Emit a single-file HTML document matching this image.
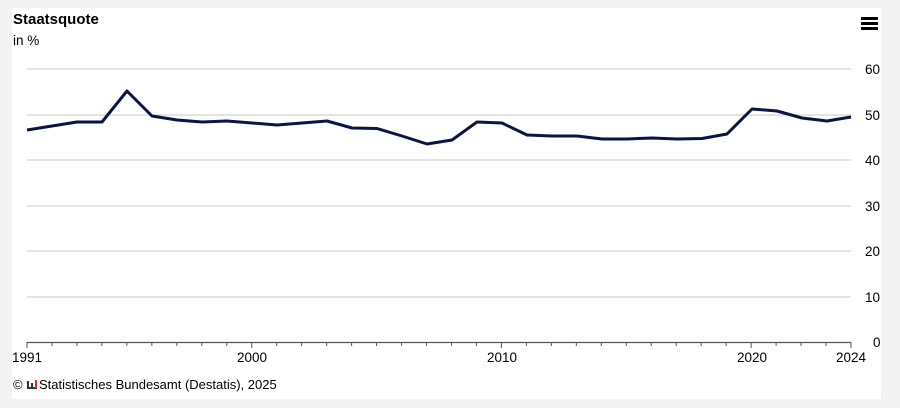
<!DOCTYPE html>
<html><head><meta charset="utf-8"><style>
body{margin:0;width:900px;height:408px;background:#f3f3f3;font-family:"Liberation Sans",sans-serif;overflow:hidden}
</style></head><body>
<svg width="900" height="408" style="position:absolute;left:0;top:0" font-family="Liberation Sans, sans-serif">
<rect x="12" y="8" width="869" height="391" fill="#fff"/>
<text x="13" y="24" font-size="15" font-weight="bold" fill="#000">Staatsquote</text>
<text x="13" y="45" font-size="13.5" fill="#000">in %</text>
<g fill="#000"><rect x="861" y="17" width="17" height="3"/><rect x="861" y="22" width="17" height="3"/><rect x="861" y="27" width="17" height="3"/></g>
<g stroke="#c8c8c8" stroke-width="1">
<line x1="27" x2="851" y1="69" y2="69"/><line x1="27" x2="851" y1="115" y2="115"/><line x1="27" x2="851" y1="160" y2="160"/><line x1="27" x2="851" y1="206" y2="206"/><line x1="27" x2="851" y1="251" y2="251"/><line x1="27" x2="851" y1="297" y2="297"/>
</g>
<g font-size="13.5" fill="#000" text-anchor="start">
<text x="865" y="74">60</text><text x="865" y="120">50</text><text x="865" y="165">40</text><text x="865" y="211">30</text><text x="865" y="256">20</text><text x="865" y="302">10</text><text x="873" y="347">0</text>
</g>
<line x1="27" x2="851" y1="342.5" y2="342.5" stroke="#555" stroke-width="1.2"/>
<g id="t" stroke="#555" stroke-width="1"></g>
<polyline fill="none" stroke="#0a1446" stroke-width="3" stroke-linejoin="round" points="
27,130 52,126 77,122 102,122 127,91 152,116 177,120 202,122 227,121 252,123 277,125 302,123 327,121 352,128 377,128.5 402,136 427,144 452,140 477,122 502,123 527,135 552,136 577,136 602,139 627,139 652,138 677,139 702,138.5 727,134 752,109 777,111 802,118 827,121 851,117"/>
<g font-size="13.5" fill="#000" text-anchor="middle">
<text x="27" y="362">1991</text><text x="252" y="362">2000</text><text x="502" y="362">2010</text><text x="752" y="362">2020</text><text x="851" y="362">2024</text>
</g>
<text x="13" y="389" font-size="13" fill="#000">©</text>
<g><rect x="27" y="381" width="2" height="8" fill="#333"/><rect x="27" y="387" width="10" height="2" fill="#333"/><rect x="31" y="383" width="2" height="5" fill="#333"/><rect x="35" y="380" width="2" height="8" fill="#d4351c"/></g>
<text x="39" y="389" font-size="13" fill="#000">Statistisches Bundesamt (Destatis), 2025</text>
<script>
var g=document.getElementById('t');for(var i=0;i<=33;i++){var x=27+i*824/33;var l=document.createElementNS('http://www.w3.org/2000/svg','line');l.setAttribute('x1',x);l.setAttribute('x2',x);l.setAttribute('y1',342);var m=(i==0||i==9||i==19||i==29||i==33);l.setAttribute('y2',m?348:346);g.appendChild(l);}
</script>
</svg>
</body></html>
